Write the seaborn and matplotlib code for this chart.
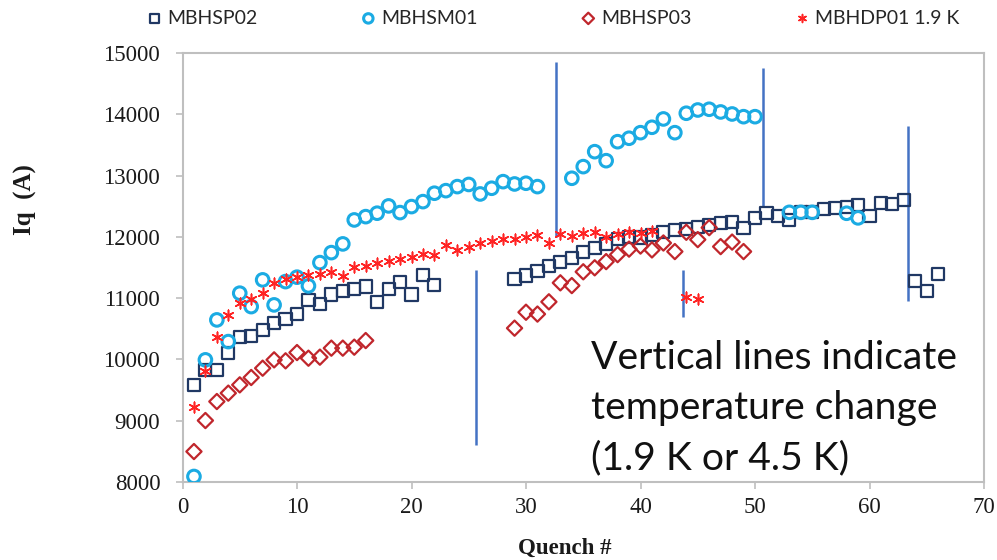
import matplotlib
matplotlib.use("Agg")
import matplotlib.pyplot as plt
import seaborn as sns

# Quench history of the magnets: quench number and quench current Iq (A)
sp02_q = list(range(1, 23)) + list(range(29, 67))
sp02_iq = [9580, 9830, 9830, 10100, 10360, 10380, 10480, 10600, 10660, 10740,
           10970, 10910, 11060, 11120, 11150, 11190, 10940, 11150, 11270, 11060,
           11380, 11220,
           11314, 11370, 11450, 11520, 11590, 11660, 11750, 11820, 11890, 11960,
           12000, 11990, 12030, 12086, 12113, 12125, 12158, 12195, 12222, 12249,
           12141, 12304, 12385, 12342, 12275, 12410, 12400, 12451, 12467, 12480,
           12521, 12342, 12559, 12540, 12600, 11286, 11123, 11396]

sm01_q = list(range(1, 32)) + list(range(34, 51)) + [53, 54, 55, 58, 59]
sm01_iq = [8090, 9993, 10645, 10291, 11081, 10862, 11298, 10890, 11270, 11342,
           11200, 11580, 11743, 11885, 12276, 12330, 12386, 12505, 12396, 12494,
           12575, 12712, 12754, 12820, 12855, 12700, 12793, 12901, 12863, 12875,
           12820,
           12956, 13146, 13390, 13243, 13553, 13609, 13700, 13788, 13924, 13700,
           14017, 14070, 14082, 14038, 14005, 13961, 13961,
           12400, 12400, 12400, 12385, 12310]

sp03_q = list(range(1, 17)) + list(range(29, 50))
sp03_iq = [8497, 9003, 9313, 9450, 9585, 9705, 9857, 9993, 9977, 10112,
           10020, 10037, 10184, 10184, 10200, 10308,
           10510, 10770, 10740, 10940, 11250, 11205, 11430, 11495, 11596, 11710,
           11800, 11850, 11787, 11900, 11760, 12075, 11955, 12150, 11841, 11915,
           11760]

dp01_q = list(range(1, 42)) + [44, 45]
dp01_iq = [9221, 9818, 10373, 10727, 10918, 10983, 11081, 11244, 11309, 11342,
           11379, 11395, 11433, 11363, 11505, 11526, 11570, 11612, 11635, 11668,
           11722, 11705, 11869, 11787, 11841, 11896, 11939, 11972, 11964, 12000,
           12038, 11896, 12045, 12008, 12065, 12086, 11995, 12045, 12080, 12070,
           12100, 11025, 10983]

# Temperature changes: quench position and the current span of each marker line
change_q = [25.6, 32.6, 43.7, 50.7, 63.4]
change_lo = [8600, 12000, 10690, 12500, 10950]
change_hi = [11460, 14850, 11460, 14760, 13810]

note_lines = ["Vertical lines indicate", "temperature change", "(1.9 K or 4.5 K)"]

sns.set_theme(style="white")
plt.rcParams["font.family"] = ["Liberation Serif", "DejaVu Serif"]

W, H = 997, 560
fig = plt.figure(figsize=(W / 100, H / 100), dpi=100)
x0, x1, y0, y1 = 182.5, 984, 53, 482
ax = fig.add_axes([x0 / W, 1 - y1 / H, (x1 - x0) / W, (y1 - y0) / H])

# (label, x, y, marker, colour, size, line width, z-order, hollow)
series = [
    ("MBHSP02", sp02_q, sp02_iq, "s", "#203864", 76, 1.6, 3, True),
    ("MBHSM01", sm01_q, sm01_iq, "o", "#1BABE3", 82, 2.2, 4, True),
    ("MBHSP03", sp03_q, sp03_iq, "D", "#C0262C", 60, 1.6, 5, True),
    ("MBHDP01 1.9 K", dp01_q, dp01_iq, (6, 2, 0), "#FF2424", 58, 1.15, 6, False),
]
for name, q, iq, mk, col, size, lw, z, hollow in series:
    face = "none" if hollow else col
    sns.scatterplot(x=q, y=iq, marker=mk, s=size, color=col, facecolor=face,
                    edgecolor=col, linewidth=lw, ax=ax, label=name, zorder=z)

ax.vlines(change_q, change_lo, change_hi, colors="#4472C4", linewidth=1.8, zorder=2)

ax.set_xlim(0, 70)
ax.set_ylim(8000, 15000)
ax.set_xticks(range(0, 71, 10))
ax.set_yticks(range(8000, 15001, 1000))

for sp in ax.spines.values():
    sp.set_color("#BFBFBF")
    sp.set_linewidth(1.5)
ax.tick_params(axis="both", which="major", direction="out", length=5, width=1.2,
               color="#BFBFBF", labelsize=16.5, labelcolor="#1a1a1a", pad=6,
               left=True, bottom=True)
ax.tick_params(axis="y", pad=11)

ax.set_ylabel("Iq  (A)", fontsize=18, fontweight="bold", color="#1a1a1a")
ax.yaxis.set_label_coords((37 - x0) / (x1 - x0), (y1 - 200) / (y1 - y0))
ax.set_xlabel("Quench #", fontsize=16.5, fontweight="bold", color="#1a1a1a")
ax.xaxis.set_label_coords((565 - x0) / (x1 - x0), (y1 - 538) / (y1 - y0))

handles, labels = ax.get_legend_handles_labels()
ax.legend(handles, labels, loc="center", bbox_to_anchor=(553 / W, 1 - 18 / H),
          bbox_transform=fig.transFigure, ncol=4, frameon=False,
          columnspacing=5.3, handletextpad=0.25, handlelength=0.8,
          markerscale=0.75, prop={"family": "Lato", "size": 14})

for i, line in enumerate(note_lines):
    fig.text(591 / W, 1 - (369 + 50 * i) / H, line, ha="left", va="baseline",
             fontsize=28.2, family=["Lato", "DejaVu Sans"], color="#111111")

fig.savefig("out.png", dpi=100)
